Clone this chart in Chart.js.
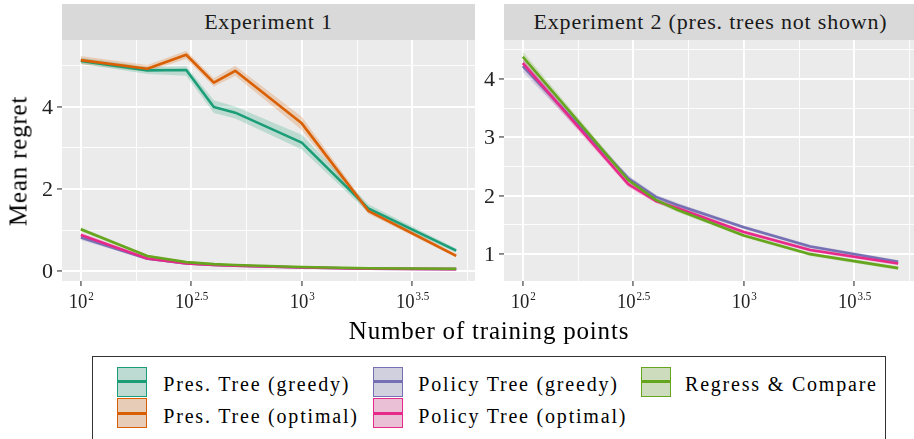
<!DOCTYPE html>
<html>
<head>
<meta charset="utf-8">
<script src="https://cdn.jsdelivr.net/npm/chart.js@4.4.0/dist/chart.umd.min.js"></script>
<style>
  body { margin: 0; width: 914px; height: 439px; overflow: hidden; position: relative; background: #fff; font-family: "Liberation Serif", serif; }
  canvas { position: absolute; top: 40px; }
  .strip { position: absolute; top: 4px; height: 36px; background: #D9D9D9; color: #1A1A1A; font-size: 22px; line-height: 1; letter-spacing: 0.8px; display: flex; align-items: center; justify-content: center; white-space: nowrap; }
  .title { position: absolute; font-size: 25px; line-height: 1; letter-spacing: 0.8px; white-space: nowrap; color: #000; transform: translate(-50%, -50%); }
  #legend { position: absolute; left: 92px; top: 356px; width: 794px; height: 120px; border: 1px solid #333; box-sizing: border-box; }
  .key { position: absolute; width: 30px; height: 30px; box-sizing: border-box; border: 1.5px solid; }
  .key i { position: absolute; left: 0; right: 0; top: 12.7px; height: 2.6px; }
  .ltext { position: absolute; font-size: 20px; line-height: 1; letter-spacing: 1.8px; white-space: nowrap; color: #000; }
</style>
</head>
<body>
<div class="strip" style="left:62px; width:413px;">Experiment 1</div>
<div class="strip" style="left:504px; width:413px;">Experiment 2 (pres. trees not shown)</div>
<canvas id="exp1" width="477" height="300" style="left:0px;"></canvas>
<canvas id="exp2" width="440" height="300" style="left:477px;"></canvas>
<div class="title" style="left:18px; top:161px; transform: translate(-50%, -50%) rotate(-90deg);">Mean regret</div>
<div class="title" style="left:489px; top:329.5px;">Number of training points</div>
<div id="legend"></div>

<script>
// --- DATA ---
const trainingPoints = [100, 200, 300, 400, 500, 1000, 2000, 5000];
const seriesNames = ['Pres. Tree (greedy)', 'Pres. Tree (optimal)', 'Policy Tree (greedy)', 'Policy Tree (optimal)', 'Regress & Compare'];
const seriesColors = ['#1B9E77', '#D95F02', '#7570B3', '#E7298A', '#66A61E'];

// x ticks as powers of ten (major labelled, minor only gridlines)
const xTickExps = [2, 2.25, 2.5, 2.75, 3, 3.25, 3.5, 3.75];
const xMajorLabels = ['2', '2.5', '3', '3.5'];

// Experiment 1
const e1PresGreedy   = [5.12, 4.89, 4.90, 4.00, 3.86, 3.13, 1.53, 0.50];
const e1PresGreedyLo = [5.05, 4.80, 4.76, 3.85, 3.72, 2.96, 1.43, 0.45];
const e1PresGreedyHi = [5.20, 4.97, 4.99, 4.16, 4.01, 3.32, 1.63, 0.55];
const e1PresOpt      = [5.14, 4.93, 5.27, 4.59, 4.88, 3.60, 1.47, 0.37];
const e1PresOptLo    = [5.04, 4.86, 5.17, 4.50, 4.76, 3.44, 1.40, 0.33];
const e1PresOptHi    = [5.24, 5.02, 5.37, 4.70, 5.00, 3.76, 1.55, 0.42];
const e1PolGreedy    = [0.82, 0.30, 0.19, 0.15, 0.13, 0.09, 0.06, 0.05];
const e1PolGreedyLo  = [0.76, 0.27, 0.17, 0.13, 0.12, 0.08, 0.05, 0.04];
const e1PolGreedyHi  = [0.88, 0.33, 0.21, 0.17, 0.14, 0.10, 0.07, 0.06];
const e1PolOpt       = [0.88, 0.31, 0.19, 0.15, 0.13, 0.09, 0.06, 0.05];
const e1PolOptLo     = [0.82, 0.28, 0.17, 0.13, 0.12, 0.08, 0.05, 0.04];
const e1PolOptHi     = [0.94, 0.34, 0.21, 0.17, 0.14, 0.10, 0.07, 0.06];
const e1Regress      = [1.02, 0.37, 0.22, 0.17, 0.15, 0.10, 0.07, 0.06];
const e1RegressLo    = [0.97, 0.34, 0.20, 0.15, 0.13, 0.09, 0.06, 0.05];
const e1RegressHi    = [1.07, 0.40, 0.24, 0.19, 0.17, 0.11, 0.08, 0.07];
const e1YTicks = [0, 1, 2, 3, 4, 5];

// Experiment 2 (pres. trees not shown)
const e2PolGreedy    = [4.22, 3.01, 2.30, 1.98, 1.84, 1.46, 1.13, 0.87];
const e2PolGreedyLo  = [4.12, 2.94, 2.25, 1.94, 1.80, 1.43, 1.10, 0.84];
const e2PolGreedyHi  = [4.32, 3.08, 2.35, 2.02, 1.88, 1.49, 1.16, 0.90];
const e2PolOpt       = [4.27, 2.96, 2.20, 1.91, 1.79, 1.38, 1.07, 0.84];
const e2PolOptLo     = [4.18, 2.90, 2.15, 1.87, 1.75, 1.35, 1.04, 0.81];
const e2PolOptHi     = [4.36, 3.02, 2.25, 1.95, 1.83, 1.41, 1.10, 0.87];
const e2Regress      = [4.38, 3.05, 2.27, 1.93, 1.76, 1.32, 1.00, 0.76];
const e2RegressLo    = [4.29, 2.99, 2.22, 1.89, 1.72, 1.29, 0.97, 0.73];
const e2RegressHi    = [4.47, 3.11, 2.32, 1.97, 1.80, 1.35, 1.03, 0.79];
const e2YTicks = [1, 1.5, 2, 2.5, 3, 3.5, 4, 4.5];

const FONT = "'Liberation Serif', 'Times New Roman', serif";

function alpha(hex, a) {
    const n = parseInt(hex.slice(1), 16);
    return `rgba(${n >> 16}, ${(n >> 8) & 255}, ${n & 255}, ${a})`;
}

function pts(arr) {
    return trainingPoints.map((x, i) => ({ x: x, y: arr[i] }));
}

// grey panel background
const panelBg = {
    id: 'panelBg',
    beforeDraw(chart) {
        const a = chart.chartArea;
        chart.ctx.save();
        chart.ctx.fillStyle = '#EBEBEB';
        chart.ctx.fillRect(a.left, a.top, a.right - a.left, a.bottom - a.top);
        chart.ctx.restore();
    }
};

// tick labels: 10 with superscript exponent on x, plain numbers on y
const tickLabels = {
    id: 'tickLabels',
    afterDraw(chart) {
        const ctx = chart.ctx, a = chart.chartArea;
        const xs = chart.scales.x, ys = chart.scales.y;
        ctx.save();
        ctx.fillStyle = '#222';
        ctx.textBaseline = 'alphabetic';
        xMajorLabels.forEach(e => {
            const px = xs.getPixelForValue(Math.pow(10, parseFloat(e)));
            ctx.font = '22px ' + FONT;
            const wb = ctx.measureText('10').width;
            ctx.font = '13px ' + FONT;
            const we = ctx.measureText(e).width;
            const sx = 0.85;
            ctx.save();
            ctx.translate(px - (wb + we) * sx / 2, a.bottom + 27);
            ctx.scale(sx, 1);
            ctx.font = '22px ' + FONT;
            ctx.fillText('10', 0, 0);
            ctx.font = '13px ' + FONT;
            ctx.fillText(e, wb + 1, -8);
            ctx.restore();
        });
        ctx.font = '22px ' + FONT;
        ctx.textAlign = 'right';
        ctx.textBaseline = 'middle';
        ys.ticks.forEach((t, i) => {
            if (i % 2) return;
            ctx.fillText(String(t.value), a.left - 9, ys.getPixelForValue(t.value) + 1);
        });
        ctx.restore();
    }
};

function buildPanel(id, lines, yTicks, yMin, yMax, axisWidth, padRight) {
    const datasets = [];
    lines.forEach(l => {
        datasets.push({ data: pts(l.lo), borderWidth: 0, pointRadius: 0, fill: false, order: 100 });
        datasets.push({ data: pts(l.hi), borderWidth: 0, pointRadius: 0, fill: '-1',
            backgroundColor: alpha(l.color, 0.22), order: 100 });
    });
    lines.forEach(l => {
        datasets.push({ data: pts(l.mean), borderColor: l.color, borderWidth: 2.6, pointRadius: 0,
            fill: false, tension: 0, borderJoinStyle: 'round', order: 60 - l.idx });
    });

    new Chart(document.getElementById(id), {
        type: 'line',
        data: { datasets: datasets },
        options: {
            responsive: false,
            animation: false,
            layout: { padding: { left: 0, right: padRight, top: 0, bottom: 0 } },
            plugins: { legend: { display: false }, tooltip: { enabled: false } },
            scales: {
                x: {
                    type: 'logarithmic',
                    min: Math.pow(10, 1.915),
                    max: Math.pow(10, 3.784),
                    afterBuildTicks: s => { s.ticks = xTickExps.map(e => ({ value: Math.pow(10, e) })); },
                    afterFit: s => { s.height = 59; },
                    ticks: { display: false },
                    border: { display: false },
                    grid: {
                        color: '#fff',
                        lineWidth: c => c.index % 2 ? 0.9 : 1.9,
                        tickColor: c => c.index % 2 ? 'rgba(0,0,0,0)' : '#333',
                        tickLength: 5,
                        tickWidth: 1.1
                    }
                },
                y: {
                    type: 'linear',
                    min: yMin,
                    max: yMax,
                    afterBuildTicks: s => { s.ticks = yTicks.map(v => ({ value: v })); },
                    afterFit: s => { s.width = axisWidth; },
                    ticks: { display: false },
                    border: { display: false },
                    grid: {
                        color: '#fff',
                        lineWidth: c => c.index % 2 ? 0.9 : 1.9,
                        tickColor: c => c.index % 2 ? 'rgba(0,0,0,0)' : '#333',
                        tickLength: 5,
                        tickWidth: 1.1
                    }
                }
            }
        },
        plugins: [panelBg, tickLabels]
    });
}

buildPanel('exp1', [
    { idx: 0, color: seriesColors[0], mean: e1PresGreedy, lo: e1PresGreedyLo, hi: e1PresGreedyHi },
    { idx: 1, color: seriesColors[1], mean: e1PresOpt, lo: e1PresOptLo, hi: e1PresOptHi },
    { idx: 2, color: seriesColors[2], mean: e1PolGreedy, lo: e1PolGreedyLo, hi: e1PolGreedyHi },
    { idx: 3, color: seriesColors[3], mean: e1PolOpt, lo: e1PolOptLo, hi: e1PolOptHi },
    { idx: 4, color: seriesColors[4], mean: e1Regress, lo: e1RegressLo, hi: e1RegressHi }
], e1YTicks, -0.24, 5.63, 62, 2);

buildPanel('exp2', [
    { idx: 2, color: seriesColors[2], mean: e2PolGreedy, lo: e2PolGreedyLo, hi: e2PolGreedyHi },
    { idx: 3, color: seriesColors[3], mean: e2PolOpt, lo: e2PolOptLo, hi: e2PolOptHi },
    { idx: 4, color: seriesColors[4], mean: e2Regress, lo: e2RegressLo, hi: e2RegressHi }
], e2YTicks, 0.54, 4.667, 27, 0);

// --- LEGEND (3 columns, filled top to bottom) ---
const legend = document.getElementById('legend');
const keyCols = [116.7, 373, 641];
const textCols = [163.3, 418.3, 685];
const keyRows = [366.7, 398.3];
const textRows = [374.3, 406];
seriesNames.forEach((name, i) => {
    const col = Math.floor(i / 2), row = i % 2;
    const c = seriesColors[i];
    const key = document.createElement('div');
    key.className = 'key';
    key.style.left = (keyCols[col] - 93) + 'px';
    key.style.top = (keyRows[row] - 357) + 'px';
    key.style.borderColor = c;
    key.style.background = `linear-gradient(${alpha(c, 0.22)}, ${alpha(c, 0.22)}), #EBEBEB`;
    key.innerHTML = `<i style="background:${c}"></i>`;
    legend.appendChild(key);

    const txt = document.createElement('div');
    txt.className = 'ltext';
    txt.style.left = (textCols[col] - 93) + 'px';
    txt.style.top = (textRows[row] - 357) + 'px';
    txt.textContent = name;
    legend.appendChild(txt);
});
</script>
</body>
</html>
